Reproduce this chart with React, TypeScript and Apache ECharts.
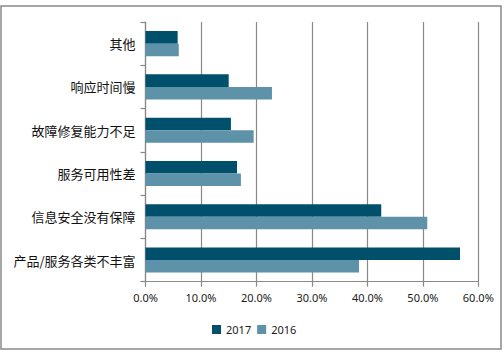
import React, { useEffect, useRef } from "react";
import * as echarts from "echarts";

const categories = ["其他", "响应时间慢", "故障修复能力不足", "服务可用性差", "信息安全没有保障", "产品/服务各类不丰富"];
const values2017 = [5.8, 15.0, 15.4, 16.5, 42.5, 56.7];
const values2016 = [6.0, 22.8, 19.5, 17.2, 50.8, 38.5];
const seriesNames = ["2017", "2016"];

export default function App() {
  const ref = useRef<HTMLDivElement>(null);
  useEffect(() => {
    const chart = echarts.init(ref.current!, null, { renderer: "svg" });
    const gray = "#898989";
    chart.setOption({
      animation: false,
      backgroundColor: "#ffffff",
      graphic: [
        {
          type: "rect",
          shape: { x: 1, y: 6, width: 500, height: 343 },
          style: { fill: "none", stroke: gray, lineWidth: 1.5 },
          silent: true,
        },
      ],
      legend: {
        data: seriesNames,
        left: 207,
        top: 319,
        itemWidth: 9,
        itemHeight: 9,
        itemGap: 6,
        icon: "rect",
        textStyle: { fontFamily: "Noto Sans", fontSize: 11, color: "#1a1a1a", padding: [0, 0, 0, 0] },
      },
      grid: { left: 145.5, right: 25.7, top: 22, bottom: 72.3, containLabel: false },
      xAxis: {
        type: "value",
        min: 0,
        max: 60,
        interval: 10,
        axisLine: { show: true, lineStyle: { color: gray, width: 1.2 } },
        axisTick: { show: true, length: 5, lineStyle: { color: gray, width: 1.2 } },
        splitLine: { show: true, lineStyle: { color: gray, width: 1.2 } },
        axisLabel: {
          formatter: (v: number) => v.toFixed(1) + "%",
          fontFamily: "Noto Sans",
          fontSize: 11,
          color: "#1a1a1a",
          margin: 10,
        },
      },
      yAxis: {
        type: "category",
        data: categories,
        inverse: true,
        axisLine: { show: true, lineStyle: { color: gray, width: 1.2 } },
        axisTick: { show: true, length: 5, lineStyle: { color: gray, width: 1.2 } },
        axisLabel: {
          fontFamily: "Noto Sans CJK SC",
          fontSize: 13,
          color: "#111111",
          margin: 10,
        },
      },
      series: [
        {
          name: seriesNames[0],
          type: "bar",
          data: values2017,
          itemStyle: { color: "#004F6B" },
          barGap: "0%",
          barCategoryGap: "42%",
        },
        {
          name: seriesNames[1],
          type: "bar",
          data: values2016,
          itemStyle: { color: "#5D92A9" },
          barGap: "0%",
          barCategoryGap: "42%",
        },
      ],
    });
    return () => chart.dispose();
  }, []);
  return <div ref={ref} style={{ position: "fixed", left: 0, top: 0, width: 504, height: 354 }} />;
}
